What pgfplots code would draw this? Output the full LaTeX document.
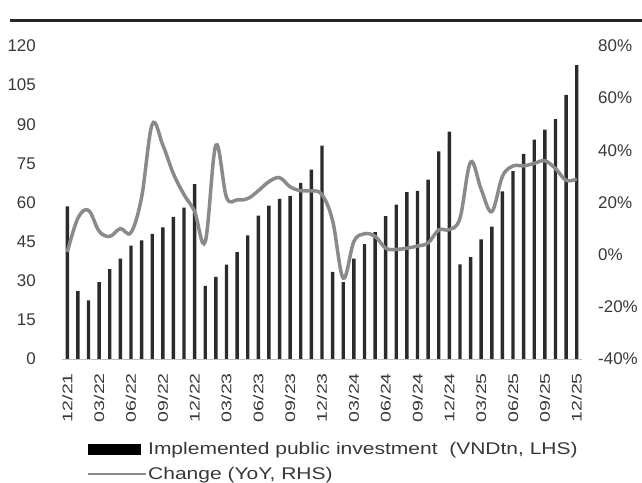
\documentclass[border=0pt]{standalone}
\usepackage{fontspec}
\setmainfont{Liberation Sans}
\usepackage{graphicx}
\usepackage{pgfplots}
\usepackage{pgfplotstable}
\pgfplotsset{compat=1.18}

\definecolor{barc}{HTML}{2B2B2B}
\definecolor{linec}{HTML}{8A8A8A}
\definecolor{txt}{HTML}{383838}

% month index, investment (VNDtn), YoY change (%)
\pgfplotstableread{
m  inv    yoy
1  58.5   1
2  26.0   14
3  22.5   17
4  29.5   9
5  34.5   7
6  38.5   10
7  43.5   8.5
8  45.5   22
9  48.0   50
10 50.5   42
11 54.5   31
12 58.0   23
13 67.0   16.5
14 28.0   5
15 31.5   42
16 36.2   22
17 41.0   21
18 47.4   21.5
19 55.0   24.5
20 58.8   28
21 61.4   29.5
22 62.5   26
23 67.5   24.5
24 72.6   24.5
25 81.8   23
26 33.4   13
27 29.5   -9
28 38.5   5
29 44.0   8
30 48.6   7
31 54.8   2.5
32 59.2   2
33 64.0   2.5
34 64.5   3.3
35 68.8   4.5
36 79.6   9.5
37 87.2   9.6
38 36.3   14
39 39.1   35.5
40 45.9   25
41 50.7   16.5
42 64.3   30
43 72.0   34
44 78.6   34
45 84.1   35
46 87.9   36
47 92.0   33
48 101.3  28.5
49 112.7  29
}\datatable

\newcommand\xl[1]{\scalebox{1.4}[1]{#1}}

\begin{document}
\begin{tikzpicture}[x=1bp,y=1bp]
\useasboundingbox (0,0) rectangle (642,483);
\draw[line width=3bp, black!85] (10,462) -- (642,462);

\begin{axis}[
  at={(62bp,124bp)}, anchor=south west, scale only axis,
  width=520bp, height=313bp,
  xmin=0.5, xmax=49.5, ymin=0, ymax=120,
  axis x line*=bottom, axis y line*=left,
  y axis line style={draw=none},
  x axis line style={black!25, line width=0.6bp},
  xtick={1,4,...,49},
  xticklabels={\xl{12/21},\xl{03/22},\xl{06/22},\xl{09/22},\xl{12/22},\xl{03/23},\xl{06/23},\xl{09/23},\xl{12/23},\xl{03/24},\xl{06/24},\xl{09/24},\xl{12/24},\xl{03/25},\xl{06/25},\xl{09/25},\xl{12/25}},
  xtick style={draw=none},
  xticklabel style={rotate=90, anchor=east, inner sep=0pt, inner xsep=14bp, font=\fontsize{14}{14}\selectfont, text=txt},
  ytick={0,15,...,120},
  yticklabels={0,15,30,45,60,75,90,105,120},
  ytick style={draw=none},
  yticklabel style={anchor=east, inner sep=0pt, xshift=-26bp, font=\fontsize{17}{17}\selectfont, text=txt},
  legend style={at={(0.048,-0.262)}, anchor=north west, draw=none, fill=none,
    inner sep=0pt, row sep=9bp, font=\fontsize{17}{20}\selectfont, text=txt,
    nodes={inner sep=1bp}},
  legend cell align=left,
]
\addplot[ybar, bar width=3.4bp, fill=barc, draw=none,
  legend image code/.code={\fill[black] (0bp,-5.5bp) rectangle (53bp,5.5bp);}]
  table[x=m, y=inv] {\datatable};
\addlegendentry{\scalebox{1.24}[1]{Implemented public investment\ \ (VNDtn, LHS)}}
\addlegendimage{legend image code/.code={\draw[linec, line width=2bp] (0bp,0bp) -- (58bp,0bp);}}
\addlegendentry{\scalebox{1.24}[1]{Change (YoY, RHS)}}
\end{axis}

\begin{axis}[
  at={(62bp,124bp)}, anchor=south west, scale only axis,
  width=520bp, height=313bp,
  xmin=0.5, xmax=49.5, ymin=-40, ymax=80,
  axis x line=none, axis y line*=right,
  y axis line style={draw=none},
  ytick={-40,-20,...,80},
  yticklabels={-40\%,-20\%,0\%,20\%,40\%,60\%,80\%},
  ytick style={draw=none},
  yticklabel style={anchor=west, inner sep=0pt, xshift=16bp, font=\fontsize{17}{17}\selectfont, text=txt},
]
\addplot[linec, line width=3.5bp, smooth, tension=0.6] table[x=m, y=yoy] {\datatable};
\end{axis}
\end{tikzpicture}
\end{document}
